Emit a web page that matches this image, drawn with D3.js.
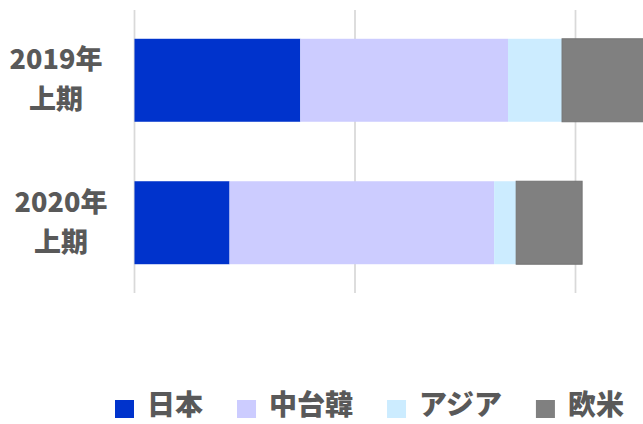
<!DOCTYPE html>
<html lang="ja">
<head>
<meta charset="UTF-8"/>
<title>地域別 上期</title>
<script src="https://d3js.org/d3.v7.min.js"></script>
<style>
  body { margin: 0; background: #fff; }
  text { font-family: "Noto Sans CJK JP", "Noto Sans", sans-serif; font-weight: 900; fill: #595959; }
</style>
</head>
<body>
<script>
    // data (units are per gridline step = 100)
    var periods = [["2019年", "上期"], ["2020年", "上期"]];
    var regions = ["日本", "中台韓", "アジア", "欧米"];
    var japan  = [75.2, 43.1];
    var china  = [94.2, 120.0];
    var asia   = [24.5, 10.0];
    var europe = [45.0, 29.9];
    var ticks  = [0, 100, 200, 300];

    var colors = ["#0033CC", "#CCCCFF", "#CCECFF", "#808080"];

    var W = 643, H = 424;

    var svg = d3.select("body")
                .append("svg")
                .attr("width", W)
                .attr("height", H);

    // x axis continues past the right edge, like the original crop
    var xScale = d3.scaleLinear()
                    .domain([0, 300])
                    .range([134.5, 796]);

    var yScale = d3.scaleBand()
                    .domain(d3.range(periods.length))
                    .range([10, 293])
                    .paddingInner(0.4175)
                    .paddingOuter(0.202);

    // gridlines
    svg.append("g")
       .selectAll("line")
       .data(ticks)
       .enter()
       .append("line")
       .attr("x1", function(d) { return xScale(d); })
       .attr("x2", function(d) { return xScale(d); })
       .attr("y1", 10)
       .attr("y2", 293)
       .attr("stroke", "#d9d9d9")
       .attr("stroke-width", 1.75);

    // stack the four series
    var rows = periods.map(function(p, i) {
        return { i: i, "日本": japan[i], "中台韓": china[i], "アジア": asia[i], "欧米": europe[i] };
    });
    var stack = d3.stack().keys(regions)(rows);

    svg.append("g")
       .selectAll("g")
       .data(stack)
       .enter()
       .append("g")
       .attr("fill", function(d, k) { return colors[k]; })
       .attr("stroke", function(d, k) { return k == 3 ? "#737373" : "none"; })
       .selectAll("rect")
       .data(function(d) { return d; })
       .enter()
       .append("rect")
       .attr("x", function(d) { return xScale(d[0]); })
       .attr("y", function(d) { return yScale(d.data.i); })
       .attr("width", function(d) { return xScale(d[1]) - xScale(d[0]); })
       .attr("height", yScale.bandwidth());

    // category labels, two lines each
    var labels = svg.append("g")
       .selectAll("text")
       .data(periods)
       .enter()
       .append("text")
       .attr("text-anchor", "middle")
       .style("font-size", "27px");

    labels.append("tspan")
       .attr("x", function(d, i) { return i == 0 ? 56 : 61; })
       .attr("y", function(d, i) { return yScale(i) + yScale.bandwidth() / 2 - 11; })
       .text(function(d) { return d[0]; });

    labels.append("tspan")
       .attr("x", function(d, i) { return i == 0 ? 56 : 61; })
       .attr("y", function(d, i) { return yScale(i) + yScale.bandwidth() / 2 + 29; })
       .text(function(d) { return d[1]; });

    // legend (kept just inside the bottom edge)
    var legend = svg.append("g");
    var lx = 115;
    regions.forEach(function(r, k) {
        legend.append("rect")
              .attr("x", lx)
              .attr("y", 400)
              .attr("width", 19)
              .attr("height", 18)
              .attr("fill", colors[k]);
        var t = legend.append("text")
              .attr("x", lx + 32)
              .attr("y", 415)
              .style("font-size", "28px")
              .text(r);
        lx = lx + 32 + t.node().getComputedTextLength() + 34;
    });
</script>
</body>
</html>
